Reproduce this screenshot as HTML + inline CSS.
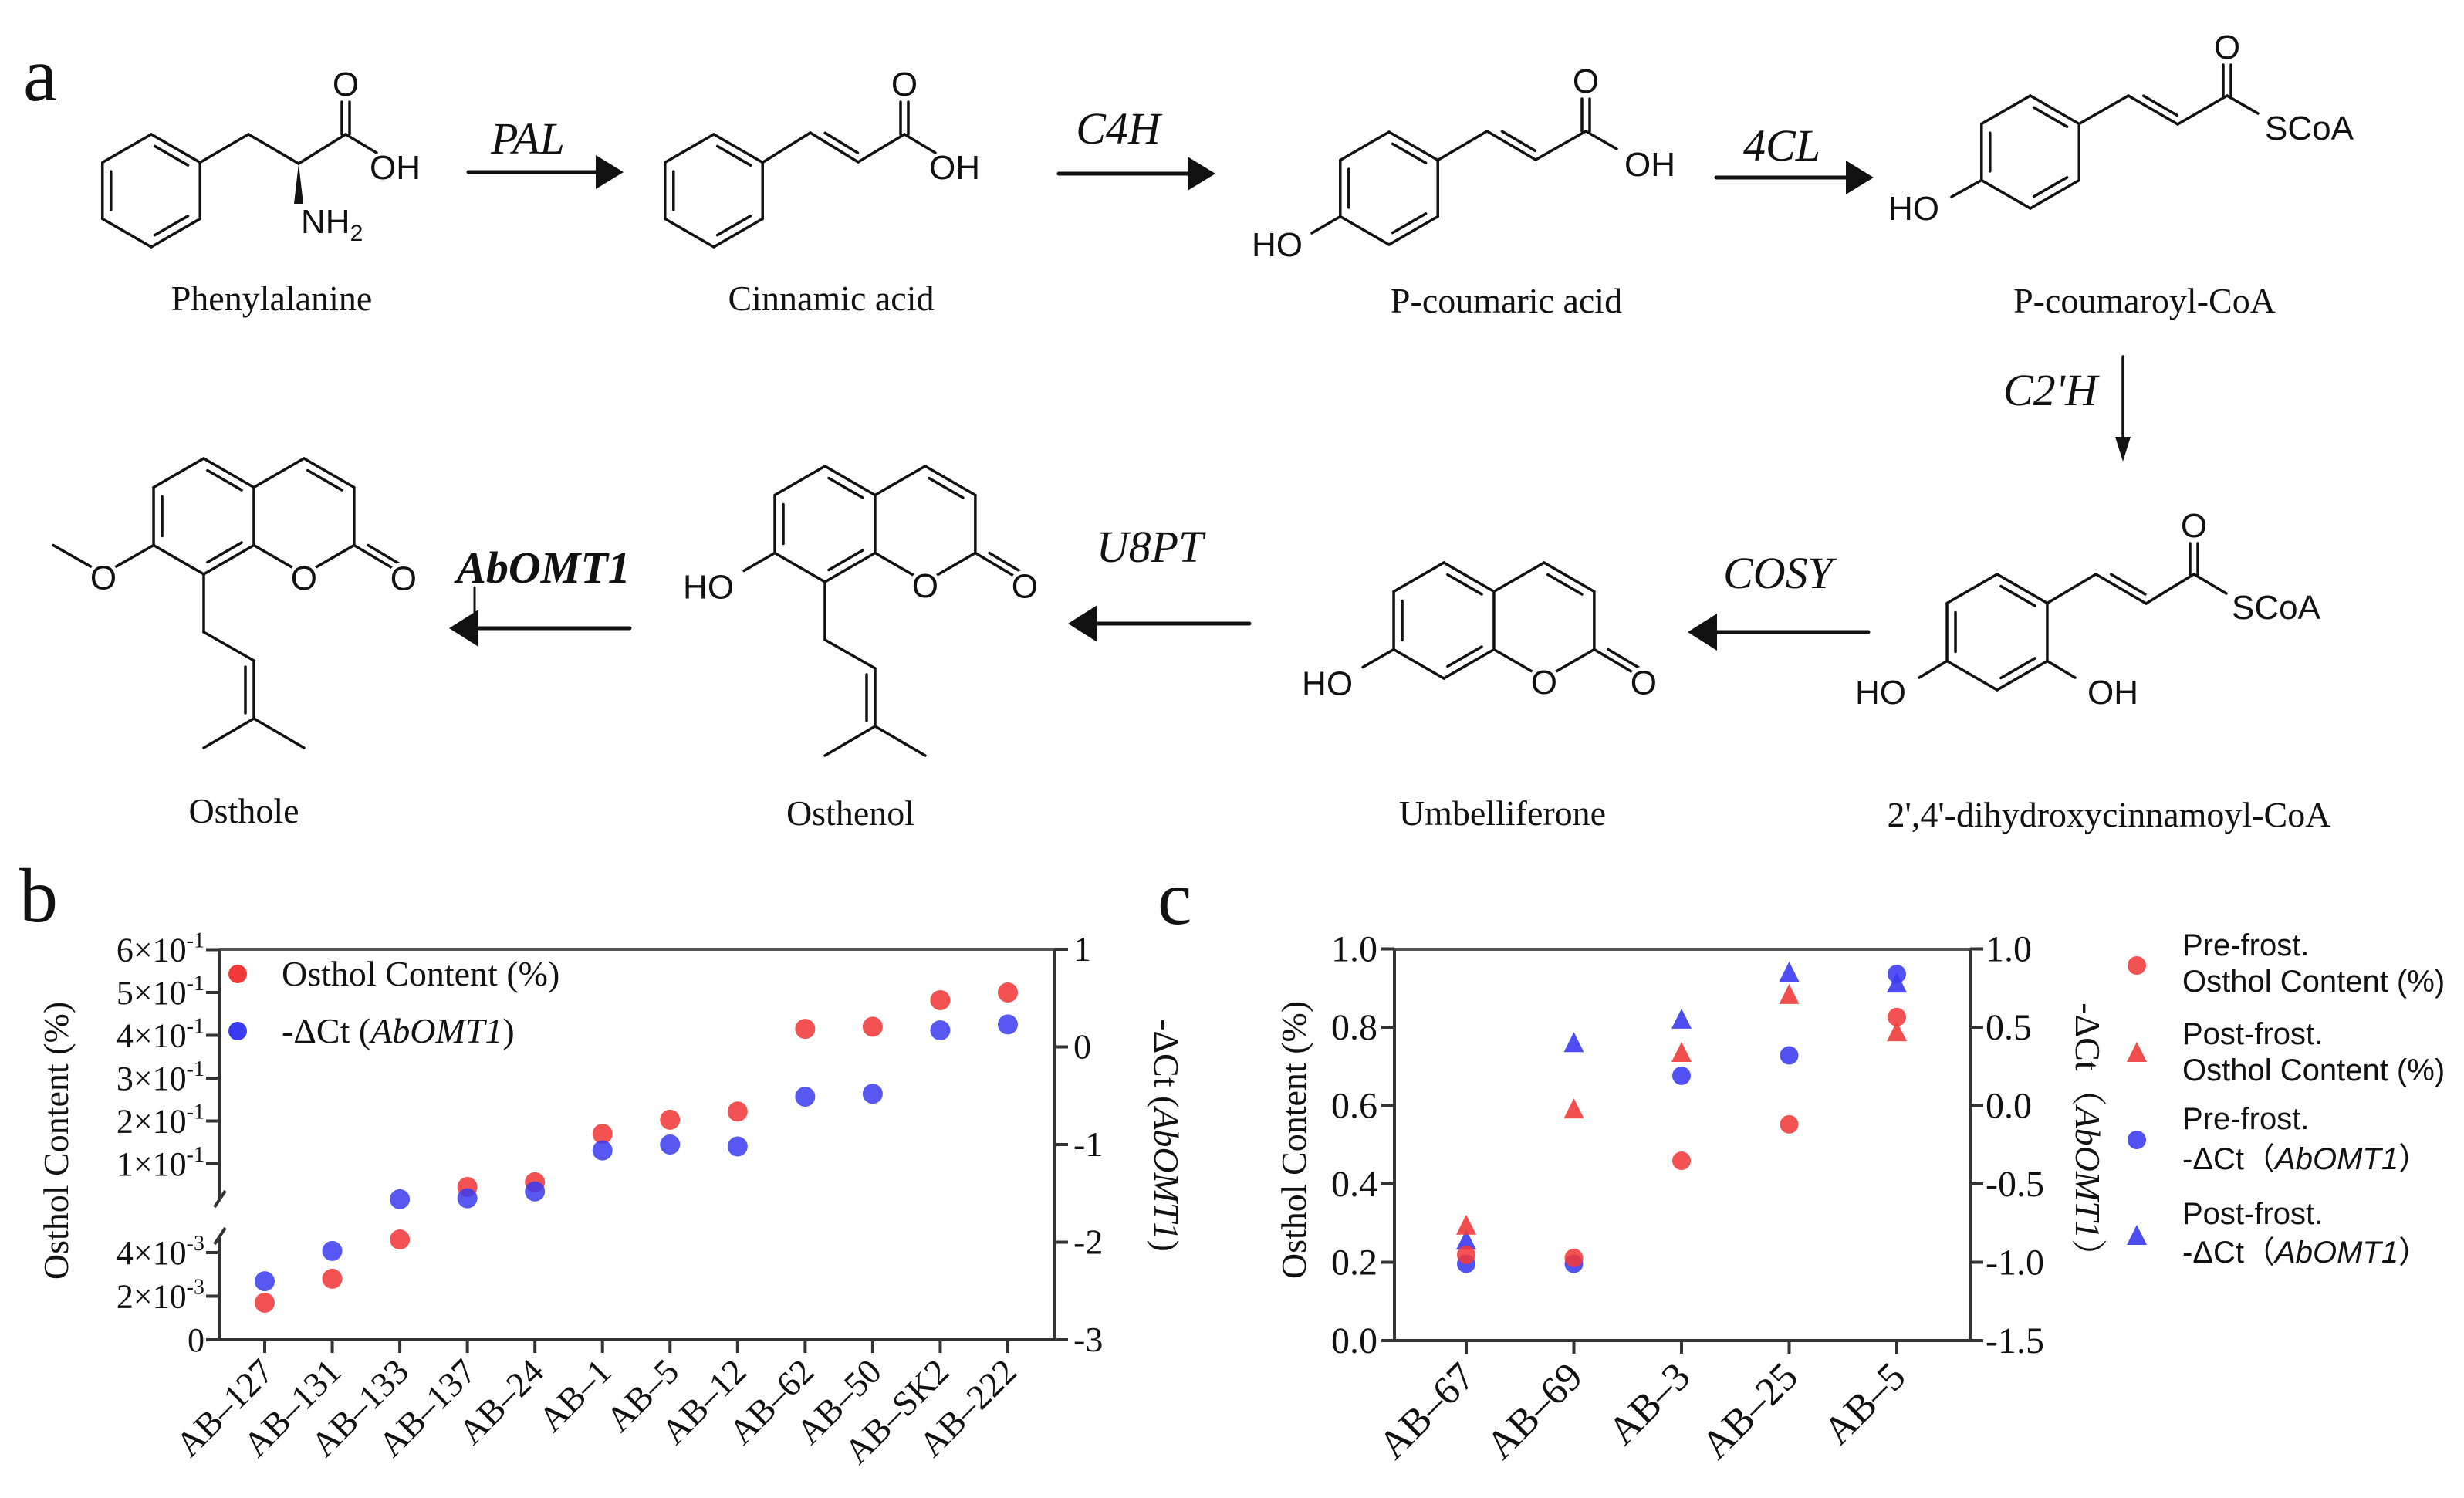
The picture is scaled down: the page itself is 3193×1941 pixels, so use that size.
<!DOCTYPE html>
<html><head><meta charset="utf-8"><style>
html,body{margin:0;padding:0;background:#fff;}
svg{display:block;}
</style></head><body>
<svg id="fig" width="3193" height="1941" viewBox="0 0 3193 1941" xmlns="http://www.w3.org/2000/svg">
<rect width="3193" height="1941" fill="#fff"/>
<g id="chem"></g>
<g id="chartB"></g>
<g id="chartC"></g>
</svg>
<script>
// ---------- chart b data ----------
const bCats = ['AB–127','AB–131','AB–133','AB–137','AB–24','AB–1','AB–5','AB–12','AB–62','AB–50','AB–SK2','AB–222'];
const bOsthol = [0.0017,0.0028,0.0046,0.046,0.057,0.17,0.203,0.222,0.415,0.42,0.482,0.50];
const bDct = [-2.40,-2.09,-1.56,-1.55,-1.48,-1.06,-1.00,-1.02,-0.51,-0.48,0.17,0.23];
const bLeftUpperTicks = [0.1,0.2,0.3,0.4,0.5,0.6];
const bLeftUpperLabels = ['1','2','3','4','5','6'];
const bLeftLowerTicks = [0,0.002,0.004];
const bLeftLowerLabels = ['0','2','4'];
const bRightTicks = [1,0,-1,-2,-3];
// ---------- chart c data ----------
const cCats = ['AB–67','AB–69','AB–3','AB–25','AB–5'];
const cPreOsthol = [0.219,0.211,0.459,0.552,0.826];
const cPostOsthol = [0.294,0.591,0.735,0.883,0.788];
const cPreDct = [-1.01,-1.01,0.19,0.32,0.84];
const cPostDct = [-0.86,0.40,0.55,0.85,0.78];
const cLeftTicks = [0,0.2,0.4,0.6,0.8,1.0];
const cRightTicks = [1.0,0.5,0.0,-0.5,-1.0,-1.5];

const NS='http://www.w3.org/2000/svg';
const RED='rgb(240,58,58)', BLUE='rgb(58,58,240)';
function mk(tag,attrs,parent){const e=document.createElementNS(NS,tag);for(const k in attrs)e.setAttribute(k,attrs[k]);parent.appendChild(e);return e;}
const chem=document.getElementById('chem');
function L(x1,y1,x2,y2,w,p){const e=mk('line',{x1,y1,x2,y2,stroke:'#111','stroke-width':w||3.5,'stroke-linecap':'round'},p||chem);

return e;}
function T(x,y,s,size,fam,anchor,style,weight,p){const e=mk('text',{x,y,'font-size':size,'font-family':fam,'text-anchor':anchor||'middle',fill:'#111'},p||chem);
if(style)e.setAttribute('font-style',style);if(weight)e.setAttribute('font-weight',weight);e.textContent=s;

return e;}
const SANS='"Liberation Sans", Arial, sans-serif', SERIF='"Liberation Serif", "Times New Roman", serif';
function inner(a,b,c,off){const f=0.16;let x1=a[0]+(b[0]-a[0])*f,y1=a[1]+(b[1]-a[1])*f,x2=a[0]+(b[0]-a[0])*(1-f),y2=a[1]+(b[1]-a[1])*(1-f);
const mx=(x1+x2)/2,my=(y1+y2)/2;let dx=c[0]-mx,dy=c[1]-my;const d=Math.hypot(dx,dy);dx=dx/d*(off||11);dy=dy/d*(off||11);L(x1+dx,y1+dy,x2+dx,y2+dy);}
function ring(cx,cy,r,dbl,skip){const v=[];for(let i=0;i<6;i++){const a=(-90+60*i)*Math.PI/180;v.push([cx+r*Math.cos(a),cy+r*Math.sin(a)]);}
for(let i=0;i<6;i++){if(skip&&skip.includes(i))continue;const a=v[i],b=v[(i+1)%6];L(a[0],a[1],b[0],b[1]);}
(dbl||[]).forEach(i=>inner(v[i],v[(i+1)%6],[cx,cy]));return v;}
function dblChain(a,b,side){inner(a,b,side,11);}
function atom(x,y,s,size){mk('circle',{cx:x,cy:y,r:20,fill:'#fff'},chem);T(x,y+16,s,size||44,SANS);}
function carbonyl(x,yTop,yC){L(x-5,yTop,x-5,yC);L(x+5,yTop,x+5,yC);}
function arrowR(x1,x2,y){L(x1,y,x2-30,y,5);const e=mk('polygon',{points:`${x2-36},${y-22} ${x2},${y} ${x2-36},${y+22}`,fill:'#111'},chem);

}
function arrowL(x1,x2,y){L(x1+30,y,x2,y,5);const e=mk('polygon',{points:`${x1+38},${y-24} ${x1},${y} ${x1+38},${y+24}`,fill:'#111'},chem);

}

// panel letters
T(30,130,'a',100,SERIF,'start');
// Phenylalanine
let v=ring(196,247,73,[0,2,4]);
L(v[1][0],v[1][1],322,174);L(322,174,387,212);L(387,212,448,174);carbonyl(448,132,174);atom(448,108,'O');
L(448,174,488,198);T(512,232,'OH',44,SANS);
mk('polygon',{points:'387,212 381,264 393,264',fill:'#111'},chem);
{const t=T(390,302,'NH',44,SANS,'start');const s=mk('tspan',{'font-size':30,dy:10},t);s.textContent='2';}
T(352,402,'Phenylalanine',46,SERIF);
arrowR(607,808,223);T(684,199,'PAL',58,SERIF,'middle','italic');
// Cinnamic acid
v=ring(925,247,73,[0,2,4]);
L(v[1][0],v[1][1],1050,172);L(1050,172,1112,210);dblChain([1050,172],[1112,210],[1130,160]);L(1112,210,1172,174);
carbonyl(1172,132,174);atom(1172,108,'O');L(1172,174,1212,198);T(1237,232,'OH',44,SANS);
T(1077,402,'Cinnamic acid',46,SERIF);
arrowR(1372,1575,225);T(1449,186,'C4H',58,SERIF,'middle','italic');
// P-coumaric acid
v=ring(1800,244,73,[0,2,4]);
L(v[4][0],v[4][1],1700,302);T(1655,332,'HO',44,SANS);
L(v[1][0],v[1][1],1927,170);L(1927,170,1990,207);dblChain([1927,170],[1990,207],[2008,158]);L(1990,207,2055,170);
carbonyl(2055,128,170);atom(2055,104,'O');L(2055,170,2095,193);T(2138,228,'OH',44,SANS);
T(1952,405,'P-coumaric acid',46,SERIF);
arrowR(2224,2428,230);T(2309,208,'4CL',58,SERIF,'middle','italic');
// P-coumaroyl-CoA
v=ring(2631,197,73,[0,2,4]);
L(v[4][0],v[4][1],2529,255);T(2480,285,'HO',44,SANS);
L(v[1][0],v[1][1],2758,124);L(2758,124,2822,161);dblChain([2758,124],[2822,161],[2840,112]);L(2822,161,2886,124);
carbonyl(2886,84,124);atom(2886,60,'O');L(2886,124,2926,147);T(2935,181,'SCoA',44,SANS,'start');
T(2779,405,'P-coumaroyl-CoA',46,SERIF);
// C2'H arrow
L(2751,462,2751,570,3.5);
{const e=mk('polygon',{points:'2741,566 2751,598 2761,566',fill:'#111'},chem);

}
T(2657,525,"C2'H",58,SERIF,'middle','italic');

// coumarin scaffold
function coumarin(dx,dy,sub,prenyl){const cxL=264+dx,cy=669+dy;
ring(cxL,cy,75,[0,2,4]);
const r=75,h=r*Math.sqrt(3)/2;const cxR=cxL+2*h;
const w=[];for(let i=0;i<6;i++){const a=(-90+60*i)*Math.PI/180;w.push([cxR+r*Math.cos(a),cy+r*Math.sin(a)]);}
L(w[5][0],w[5][1],w[0][0],w[0][1]);L(w[0][0],w[0][1],w[1][0],w[1][1]);L(w[1][0],w[1][1],w[2][0],w[2][1]);
L(w[2][0],w[2][1],w[3][0],w[3][1]);L(w[3][0],w[3][1],w[4][0],w[4][1]);
inner(w[0],w[1],[cxR,cy]);
const oc=[w[2][0]+64,w[2][1]+38];L(w[2][0],w[2][1],oc[0],oc[1]);inner(w[2],oc,[w[2][0]+70,w[2][1]-10],10);
atom(w[3][0],w[3][1]+4,'O');atom(oc[0],oc[1]+4,'O');
const v4=[cxL-h,cy+r/2];
if(sub==='OMe'){L(v4[0],v4[1],v4[0]-65,v4[1]+37);L(v4[0]-65,v4[1]+37,v4[0]-130,v4[1]);atom(v4[0]-65,v4[1]+41,'O');}
else{L(v4[0],v4[1],v4[0]-40,v4[1]+23);T(v4[0]-86,v4[1]+59,'HO',44,SANS);}
if(prenyl){const b=[cxL,cy+r];L(b[0],b[1],b[0],b[1]+75);L(b[0],b[1]+75,b[0]+65,b[1]+112);
L(b[0]+65,b[1]+112,b[0]+65,b[1]+187);L(b[0]+54,b[1]+120,b[0]+54,b[1]+180);
L(b[0]+65,b[1]+187,b[0],b[1]+225);L(b[0]+65,b[1]+187,b[0]+130,b[1]+225);}}
coumarin(0,0,'OMe',true);T(316,1066,'Osthole',46,SERIF);
arrowL(582,816,814);L(615,761,615,797,3);
T(704,755,'AbOMT1',58,SERIF,'middle','italic','bold');
coumarin(805,10,'OH',true);T(1102,1069,'Osthenol',46,SERIF);
arrowL(1384,1619,808);T(1490,728,'U8PT',58,SERIF,'middle','italic');
coumarin(1607,135,'OH',false);T(1947,1069,'Umbelliferone',46,SERIF);
arrowL(2187,2421,819);T(2304,762,'COSY',58,SERIF,'middle','italic');
// dihydroxy
v=ring(2588,819,75,[0,2,4]);
L(v[4][0],v[4][1],2487,878);T(2437,912,'HO',44,SANS);
L(v[2][0],v[2][1],2689,878);T(2738,912,'OH',44,SANS);
L(v[1][0],v[1][1],2716,744);L(2716,744,2781,782);dblChain([2716,744],[2781,782],[2800,730]);L(2781,782,2843,744);
carbonyl(2843,704,744);atom(2843,680,'O');L(2843,744,2885,769);T(2892,802,'SCoA',44,SANS,'start');
T(2733,1071,"2',4'-dihydroxycinnamoyl-CoA",46,SERIF);

// ================= CHART B =================
const gB=document.getElementById('chartB');
const bL=284,bR=1367,bT=1230,bB=1736;
function bx(i){return 343+i*((1306-343)/(bCats.length-1));}
function byL(v){return v<=0.0055? bB - v*28250 : 1508-(v-0.1)*555;}
function byR(v){return bT+(1-v)*126.5;}
function ax(x1,y1,x2,y2,p,name,col){const e=mk('line',{x1,y1,x2,y2,stroke:col||'#333','stroke-width':4},p);

return e;}
T(25,1194,'b',100,SERIF,'start',null,null,gB);
ax(bL,bT,bR,bT,gB,'top-frame','#555');ax(bL,bB,bR,bB,gB,'x-axis');
ax(bL,bT,bL,1553,gB,'y-axis-left-upper');ax(bL,1602,bL,bB,gB,'y-axis-left-lower');
ax(278,1564,292,1543,gB,'axis-break');ax(278,1612,292,1591,gB,'axis-break');
ax(bR,bT,bR,bB,gB,'y-axis-right');
function leftLab(y,m,e){const t=mk('text',{x:265,y:y+15,'font-size':44,'font-family':SERIF,'text-anchor':'end',fill:'#111'},gB);


if(m==='0'){t.textContent='0';return;}
const a=mk('tspan',{},t);a.textContent=m+'×10';const s=mk('tspan',{'font-size':28,dy:-18},t);s.textContent=e;}
bLeftUpperTicks.forEach((v,i)=>{const y=byL(v);ax(bL-17,y,bL,y,gB,'y-tick');leftLab(y,bLeftUpperLabels[i],'-1');});
bLeftLowerTicks.forEach((v,i)=>{const y=byL(v);ax(bL-17,y,bL,y,gB,'y-tick');leftLab(y,bLeftLowerLabels[i],'-3');});
bRightTicks.forEach(v=>{const y=byR(v);ax(bR,y,bR+17,y,gB,'y-right-tick');T(bR+24,y+15,String(v),46,SERIF,'start',null,null,gB);});
bCats.forEach((c,i)=>{const x=bx(i);ax(x,bB,x,bB+17,gB,'x-tick');
const t=T(x+14,bB+44,c,46,SERIF,'end',null,null,gB);t.setAttribute('transform',`rotate(-45 ${x+14} ${bB+44})`);});
{const t=T(0,0,'Osthol Content (%)',46,SERIF,'middle',null,null,gB);t.setAttribute('transform','translate(88,1478) rotate(-90)');}
{const t=mk('text',{'font-size':46,'font-family':SERIF,'text-anchor':'middle',fill:'#111',transform:'translate(1496,1471) rotate(90)'},gB);


const a=mk('tspan',{},t);a.textContent='-ΔCt (';const b=mk('tspan',{'font-style':'italic'},t);b.textContent='AbOMT1';const c=mk('tspan',{},t);c.textContent=')';}
bOsthol.forEach((v,i)=>{const e=mk('circle',{cx:bx(i),cy:byL(v),r:13,fill:RED,'fill-opacity':0.88},gB);

});
bDct.forEach((v,i)=>{const e=mk('circle',{cx:bx(i),cy:byR(v),r:13,fill:BLUE,'fill-opacity':0.85},gB);

});
// legend b
{const e=mk('circle',{cx:308,cy:1262,r:12,fill:RED},gB);


T(365,1277,'Osthol Content (%)',46,SERIF,'start',null,null,gB);
const f=mk('circle',{cx:308,cy:1336,r:12,fill:BLUE},gB);


const t=mk('text',{x:365,y:1351,'font-size':46,'font-family':SERIF,fill:'#111'},gB);


const a=mk('tspan',{},t);a.textContent='-ΔCt (';const b=mk('tspan',{'font-style':'italic'},t);b.textContent='AbOMT1';const c=mk('tspan',{},t);c.textContent=')';}

// ================= CHART C =================
const gC=document.getElementById('chartC');
const cL=1807,cR=2553,cT=1230,cB=1737;
function cx_(i){return 1900+i*((2458-1900)/(cCats.length-1));}
function cyL(v){return cB-v*507.5;}
function cyR(v){return cB-(v+1.5)*203;}
T(1500,1197,'c',100,SERIF,'start',null,null,gC);
ax(cL,cT,cR,cT,gC,'top-frame','#555');ax(cL,cB,cR,cB,gC,'x-axis');ax(cL,cT,cL,cB,gC,'y-axis-left');ax(cR,cT,cR,cB,gC,'y-axis-right');
cLeftTicks.forEach(v=>{const y=cyL(v);ax(cL-17,y,cL,y,gC,'y-tick');T(cL-22,y+16,v.toFixed(1),48,SERIF,'end',null,null,gC);});
cRightTicks.forEach(v=>{const y=cyR(v);ax(cR,y,cR+17,y,gC,'y-right-tick');T(cR+20,y+16,v.toFixed(1),48,SERIF,'start',null,null,gC);});
cCats.forEach((c,i)=>{const x=cx_(i);ax(x,cB,x,cB+17,gC,'x-tick');
const t=T(x+14,cB+50,c,52,SERIF,'end',null,null,gC);t.setAttribute('transform',`rotate(-45 ${x+14} ${cB+50})`);});
{const t=T(0,0,'Osthol Content (%)',46,SERIF,'middle',null,null,gC);t.setAttribute('transform','translate(1692,1477) rotate(-90)');}
function dctTitle(x,y,name){const t=mk('text',{'font-size':46,'font-family':'"Liberation Serif", "Noto Serif CJK SC", serif','text-anchor':'middle',fill:'#111',transform:`translate(${x},${y}) rotate(90)`},gC);


const a=mk('tspan',{},t);a.textContent='-ΔCt（';const b=mk('tspan',{'font-style':'italic'},t);b.textContent='AbOMT1';const c=mk('tspan',{},t);c.textContent='）';}
dctTitle(2690,1475,'y-axis-right-title');
function tri(x,y,col,p,name){const e=mk('polygon',{points:`${x-13},${y+12} ${x},${y-14} ${x+13},${y+12}`,fill:col,'fill-opacity':0.9},p);

return e;}
function dot(x,y,col,p,name){const e=mk('circle',{cx:x,cy:y,r:12,fill:col,'fill-opacity':0.88},p);

return e;}
cPreDct.forEach((v,i)=>dot(cx_(i),cyR(v),BLUE,gC,'pre-frost-dct-point'));
cPostDct.forEach((v,i)=>tri(cx_(i),cyR(v),BLUE,gC,'post-frost-dct-point'));
cPostOsthol.forEach((v,i)=>tri(cx_(i),cyL(v),RED,gC,'post-frost-osthol-point'));
cPreOsthol.forEach((v,i)=>dot(cx_(i),cyL(v),RED,gC,'pre-frost-osthol-point'));
// legend c
const LX=2769,TX=2828;
dot(LX,1251,RED,gC,'legend-pre-osthol-marker');T(TX,1238,'Pre-frost.',40,SANS,'start',null,null,gC);T(TX,1285,'Osthol Content (%)',40,SANS,'start',null,null,gC);
tri(LX,1364,RED,gC,'legend-post-osthol-marker');T(TX,1353,'Post-frost.',40,SANS,'start',null,null,gC);T(TX,1400,'Osthol Content (%)',40,SANS,'start',null,null,gC);
dot(LX,1477,BLUE,gC,'legend-pre-dct-marker');T(TX,1463,'Pre-frost.',40,SANS,'start',null,null,gC);
function dctLeg(y){const t=mk('text',{x:TX,y,'font-size':40,'font-family':'"Liberation Sans", "Noto Sans CJK SC", sans-serif',fill:'#111'},gC);


const a=mk('tspan',{},t);a.textContent='-ΔCt（';const b=mk('tspan',{'font-style':'italic'},t);b.textContent='AbOMT1';const c=mk('tspan',{},t);c.textContent='）';}
dctLeg(1515);
tri(LX,1601,BLUE,gC,'legend-post-dct-marker');T(TX,1586,'Post-frost.',40,SANS,'start',null,null,gC);dctLeg(1636);
</script>
</body></html>
